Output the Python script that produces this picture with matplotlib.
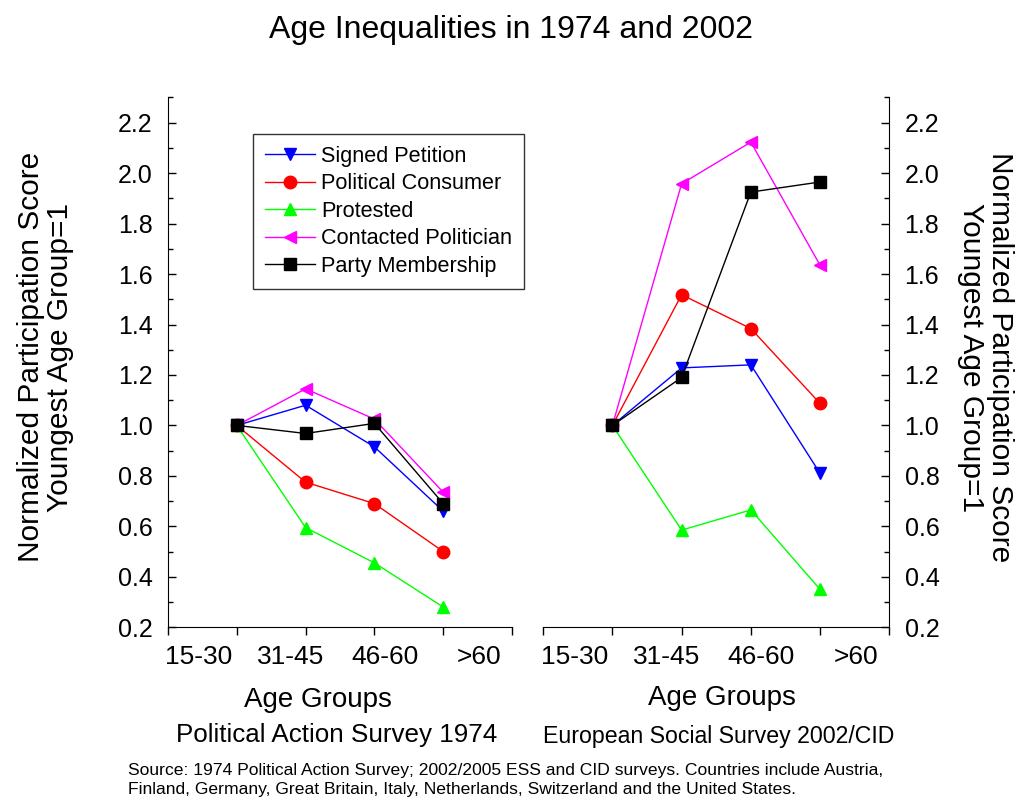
import matplotlib
matplotlib.use('Agg')
import matplotlib.pyplot as plt
from matplotlib.ticker import MultipleLocator

plt.rcParams['font.family'] = ['Liberation Sans', 'DejaVu Sans']

age_groups = ['15-30', '31-45', '46-60', '>60']
positions = [1, 2, 3, 4]

series_names = ['Signed Petition', 'Political Consumer', 'Protested',
                'Contacted Politician', 'Party Membership']
colors = ['#0000ff', '#ff0000', '#00ff00', '#ff00ff', '#000000']
markers = ['v', 'o', '^', '<', 's']

# 1974 Political Action Survey
petition_1974 = [1.0, 1.08, 0.915, 0.66]
consumer_1974 = [1.0, 0.775, 0.69, 0.50]
protest_1974 = [1.0, 0.595, 0.455, 0.28]
contacted_1974 = [1.0, 1.145, 1.025, 0.735]
party_1974 = [1.0, 0.968, 1.008, 0.69]

# European Social Survey 2002/CID
petition_2002 = [1.0, 1.228, 1.24, 0.81]
consumer_2002 = [1.0, 1.518, 1.384, 1.087]
protest_2002 = [1.0, 0.585, 0.665, 0.35]
contacted_2002 = [1.0, 1.958, 2.123, 1.635]
party_2002 = [1.0, 1.19, 1.925, 1.965]

data_1974 = [petition_1974, consumer_1974, protest_1974, contacted_1974, party_1974]
data_2002 = [petition_2002, consumer_2002, protest_2002, contacted_2002, party_2002]

label_pos = [0.45, 1.78, 3.15, 4.52]
ylab = 'Normalized Participation Score\nYoungest Age Group=1'

fig = plt.figure(figsize=(10.21, 7.99), dpi=100)
ax1 = fig.add_axes([0.1645, 0.215, 0.337, 0.663])
ax2 = fig.add_axes([0.532, 0.215, 0.339, 0.663])

for ax, data in [(ax1, data_1974), (ax2, data_2002)]:
    for name, vals, c, m in zip(series_names, data, colors, markers):
        ax.plot(positions, vals, color=c, marker=m, markersize=9, lw=1,
                markeredgecolor=c, label=name)
    ax.set_xlim(0, 5)
    ax.set_ylim(0.2, 2.3)
    ax.set_xticks(range(6))
    ax.set_xticklabels([])
    ax.set_xticks(label_pos, minor=True)
    ax.set_xticklabels(age_groups, minor=True, fontsize=19)
    ax.tick_params(axis='x', which='major', direction='out', length=6, width=1)
    ax.tick_params(axis='x', which='minor', length=0, pad=13)
    ax.set_yticks([0.2 + 0.2 * i for i in range(11)])
    ax.yaxis.set_minor_locator(MultipleLocator(0.1))
    ax.tick_params(axis='y', which='major', direction='in', length=6, width=1,
                   labelsize=18, pad=11)
    ax.tick_params(axis='y', which='minor', direction='in', length=3.5, width=1)
    ax.spines['top'].set_visible(False)
    ax.yaxis.set_major_formatter(plt.FormatStrFormatter('%.1f'))

ax1.spines['right'].set_visible(False)
ax2.spines['left'].set_visible(False)
ax2.yaxis.tick_right()

fig.text(0.045, 0.553, ylab, fontsize=21.5, rotation=90, ha='center', va='center',
         linespacing=1.05)
fig.text(0.965, 0.553, ylab, fontsize=21.5, rotation=270, ha='center', va='center',
         linespacing=1.05)

fig.text(318 / 1021, 1 - 700 / 799, 'Age Groups', fontsize=20, ha='center', va='center')
fig.text(337 / 1021, 1 - 735 / 799, 'Political Action Survey 1974', fontsize=18.7,
         ha='center', va='center')
fig.text(722 / 1021, 1 - 698 / 799, 'Age Groups', fontsize=20, ha='center', va='center')
fig.text(719 / 1021, 1 - 737 / 799, 'European Social Survey 2002/CID', fontsize=16.7,
         ha='center', va='center')

fig.text(0.5, 1 - 30 / 799, 'Age Inequalities in 1974 and 2002', fontsize=23,
         ha='center', va='center')

leg = ax1.legend(loc='upper left', bbox_to_anchor=(253 / 1021, 1 - 134 / 799),
                 bbox_transform=fig.transFigure, borderaxespad=0,
                 fontsize=15.6, frameon=True, fancybox=False, edgecolor='black',
                 handlelength=2.3, borderpad=0.55, labelspacing=0.3,
                 handletextpad=0.3)
leg.get_frame().set_linewidth(1)

fig.text(0.125, 2 / 799, 'Source: 1974 Political Action Survey; 2002/2005 ESS and CID surveys. '
         'Countries include Austria,\nFinland, Germany, Great Britain, Italy, Netherlands, '
         'Switzerland and the United States.', fontsize=12.6, ha='left', va='bottom',
         linespacing=1.35)

fig.savefig('out.png', dpi=100)
